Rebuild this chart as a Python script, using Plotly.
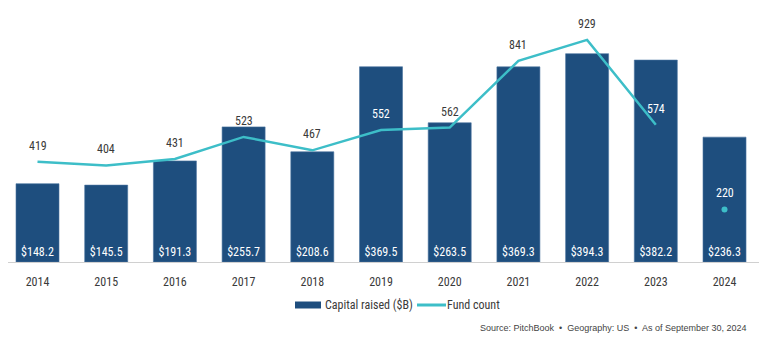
import plotly.graph_objects as go

years = ["2014", "2015", "2016", "2017", "2018", "2019", "2020", "2021", "2022", "2023", "2024"]
capital_raised = [148.2, 145.5, 191.3, 255.7, 208.6, 369.5, 263.5, 369.3, 394.3, 382.2, 236.3]
fund_count = [419, 404, 431, 523, 467, 552, 562, 841, 929, 574, 220]
count_label_colors = ["#3a3a3a", "#3a3a3a", "#3a3a3a", "#3a3a3a", "#3a3a3a", "#ffffff",
                      "#3a3a3a", "#3a3a3a", "#3a3a3a", "#ffffff", "#ffffff"]

BAR = "#1e4e7e"
LINE = "#3dbec8"
FONT = "Liberation Sans Narrow, Roboto Condensed, Arial Narrow, sans-serif"

# the page body has an 8px margin, so the figure starts at page (8, 8)
OFF = 8
W, H = 768 - OFF, 357 - OFF
PLOT_L, PLOT_R, PLOT_T, PLOT_B = 8, 759, 20, 262   # page pixels
L, R, T, B = PLOT_L - OFF, (OFF + W) - PLOT_R, PLOT_T - OFF, (OFF + H) - PLOT_B
PW, PH = PLOT_R - PLOT_L, PLOT_B - PLOT_T


def px_x(px):
    return (px - PLOT_L) / PW


def px_y(py):
    return (PLOT_B - py) / PH


fig = go.Figure()
fig.add_trace(go.Bar(
    x=years, y=capital_raised, name="Capital raised ($B)",
    marker=dict(color=BAR, line=dict(color="#4a73a0", width=0.6)),
    width=0.626,
    text=[f"${v:.1f}" for v in capital_raised],
    textposition="inside", insidetextanchor="start",
    textfont=dict(color="white", size=12, family=FONT),
    showlegend=False, hoverinfo="skip",
))
fig.add_trace(go.Scatter(
    x=years[:-1], y=fund_count[:-1], name="Fund count", yaxis="y2",
    mode="lines", line=dict(color=LINE, width=2.5),
    showlegend=False, hoverinfo="skip",
))
fig.add_trace(go.Scatter(
    x=years[-1:], y=fund_count[-1:], yaxis="y2",
    mode="markers", marker=dict(color=LINE, size=6),
    showlegend=False, hoverinfo="skip",
))

for i, (v, c) in enumerate(zip(fund_count, count_label_colors)):
    fig.add_annotation(x=i, y=v, xref="x", yref="y2", text=str(v), showarrow=False,
                       yshift=16, font=dict(color=c, size=12, family=FONT))

# legend (drawn manually to match swatch shapes)
fig.add_shape(type="rect", xref="paper", yref="paper",
              x0=px_x(295), x1=px_x(321), y0=px_y(308.5), y1=px_y(301.5),
              fillcolor=BAR, line=dict(width=0))
fig.add_annotation(xref="paper", yref="paper", x=px_x(323), y=px_y(305), text="Capital raised ($B)",
                   showarrow=False, xanchor="left", yanchor="middle",
                   font=dict(color="#3a3a3a", size=12, family=FONT))
fig.add_shape(type="line", xref="paper", yref="paper",
              x0=px_x(417), x1=px_x(446), y0=px_y(305), y1=px_y(305),
              line=dict(color=LINE, width=3))
fig.add_annotation(xref="paper", yref="paper", x=px_x(445), y=px_y(305), text="Fund count",
                   showarrow=False, xanchor="left", yanchor="middle",
                   font=dict(color="#3a3a3a", size=12, family=FONT))

fig.add_annotation(xref="paper", yref="paper", x=px_x(748), y=px_y(328),
                   text="Source: PitchBook  •  Geography: US  •  As of September 30, 2024",
                   showarrow=False, xanchor="right", yanchor="middle",
                   font=dict(color="#444444", size=9, family="Liberation Sans, Arial, sans-serif"))

fig.update_layout(
    width=W, height=H, margin=dict(l=L, r=R, t=T, b=B, pad=0),
    paper_bgcolor="white", plot_bgcolor="white",
    bargap=0.374,
    xaxis=dict(type="category", range=[-0.4294, 10.502], showgrid=False, showline=True,
               linecolor="#d0d0d0", linewidth=1,
               ticks="outside", ticklen=9, tickcolor="rgba(0,0,0,0)",
               tickfont=dict(size=12, color="#3a3a3a", family=FONT), fixedrange=True),
    yaxis=dict(range=[0, 458], visible=False, showgrid=False, fixedrange=True),
    yaxis2=dict(range=[0, 1012], overlaying="y", visible=False, showgrid=False, fixedrange=True),
    showlegend=False,
)

fig.write_html("out.html")
